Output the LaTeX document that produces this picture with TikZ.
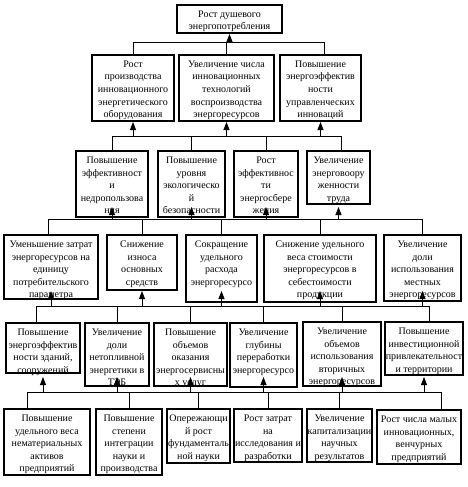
\documentclass[tikz,border=0pt]{standalone}
\usepackage{fontspec}
\setmainfont{Liberation Serif}
\usetikzlibrary{arrows.meta}
\newcommand{\cellbox}[1]{\begin{tabular}[t]{@{}c@{}}#1\end{tabular}}

\begin{document}
\begin{tikzpicture}[x=1pt,y=1pt,
  box/.style={draw,line width=2pt,anchor=north,inner xsep=1pt,inner ysep=2pt,
    text height=10.5pt,font=\fontsize{10}{12.5}\selectfont},
  arr/.style={line width=.8pt,-{Triangle[width=6pt,length=8pt]}},
  bus/.style={line width=.8pt}]
\useasboundingbox (0,0) rectangle (468,-487);
% levels
\node[box,minimum width=105pt,text depth=13.5pt] (t) at (229.5,-4) {\cellbox{Рост душевого\\энергопотребления}};

\node[box,minimum width=82pt,text depth=51.5pt] (a1) at (133,-54) {\cellbox{Рост\\производства\\инновационного\\энергетического\\оборудования}};
\node[box,minimum width=95pt,text depth=51.5pt] (a2) at (226.5,-54) {\cellbox{Увеличение числа\\инновационных\\технологий\\воспроизводства\\энергоресурсов}};
\node[box,minimum width=81pt,text depth=51.5pt] (a3) at (320.5,-54) {\cellbox{Повышение\\энергоэффектив\\ности\\управленческих\\инноваций}};

\node[box,minimum width=72pt,text depth=51.5pt] (b1) at (112,-150) {\cellbox{Повышение\\эффективност\\и\\недропользова\\ния}};
\node[box,minimum width=67pt,text depth=51.5pt] (b2) at (191.5,-150) {\cellbox{Повышение\\уровня\\экологическо\\й\\безопасности}};
\node[box,minimum width=64pt,text depth=51.5pt] (b3) at (266,-150) {\cellbox{Рост\\эффективнос\\ти\\энергосбере\\жения}};
\node[box,minimum width=63pt,text depth=38.5pt] (b4) at (338.5,-150) {\cellbox{Увеличение\\энерговоору\\женности\\труда}};

\node[box,minimum width=94pt,text depth=49.5pt] (c1) at (51,-234) {\cellbox{Уменьшение затрат\\энергоресурсов на\\единицу\\потребительского\\параметра}};
\node[box,minimum width=70pt,text depth=40.5pt] (c2) at (142,-234) {\cellbox{Снижение\\износа\\основных\\средств}};
\node[box,minimum width=71pt,text depth=52.5pt] (c3) at (221.5,-234) {\cellbox{Сокращение\\удельного\\расхода\\энергоресурсо}};
\node[box,minimum width=112pt,text depth=52.5pt] (c4) at (320,-234) {\cellbox{Снижение удельного\\веса стоимости\\энергоресурсов в\\себестоимости\\продукции}};
\node[box,minimum width=77pt,text depth=51.5pt] (c5) at (422.5,-234) {\cellbox{Увеличение\\доли\\использования\\местных\\энергоресурсов}};

\node[box,minimum width=74pt,text depth=35.5pt] (d1) at (43,-322) {\cellbox{Повышение\\энергоэффектив\\ности зданий,\\сооружений}};
\node[box,minimum width=64pt,text depth=48.5pt] (d2) at (117,-322) {\cellbox{Увеличение\\доли\\нетопливной\\энергетики в\\ТЭБ}};
\node[box,minimum width=73pt,text depth=48.5pt] (d3) at (190.5,-322) {\cellbox{Повышение\\объемов\\оказания\\энергосервисны\\х услуг}};
\node[box,minimum width=67pt,text depth=49.5pt] (d4) at (263.5,-322) {\cellbox{Увеличение\\глубины\\переработки\\энергоресурсо}};
\node[box,minimum width=78pt,text depth=49.5pt] (d5) at (342,-321) {\cellbox{Увеличение\\объемов\\использования\\вторичных\\энергоресурсов}};
\node[box,minimum width=76pt,text depth=38.5pt] (d6) at (424,-321) {\cellbox{Повышение\\инвестиционной\\привлекательност\\и территории}};

\node[box,minimum width=86pt,text depth=51.5pt] (e1) at (47,-408) {\cellbox{Повышение\\удельного веса\\нематериальных\\активов\\предприятий}};
\node[box,minimum width=66pt,text depth=51.5pt] (e2) at (129,-408) {\cellbox{Повышение\\степени\\интеграции\\науки и\\производства}};
\node[box,minimum width=63pt,text depth=39.5pt] (e3) at (198.5,-408) {\cellbox{Опережающи\\й рост\\фундаменталь\\ной науки}};
\node[box,minimum width=66pt,text depth=38.5pt] (e4) at (268,-408) {\cellbox{Рост затрат\\на\\исследования и\\разработки}};
\node[box,minimum width=65pt,text depth=38.5pt] (e5) at (339.5,-408) {\cellbox{Увеличение\\капитализации\\научных\\результатов}};
\node[box,minimum width=84pt,text depth=39.5pt] (e6) at (419,-409) {\cellbox{Рост числа малых\\инновационных,\\венчурных\\предприятий}};

% buses
\coordinate (l1) at (133,-42);  \coordinate (r1) at (324,-42);
\coordinate (l2) at (112,-136); \coordinate (r2) at (341,-136);
\coordinate (l3) at (48,-219);  \coordinate (r3) at (422,-219);
\coordinate (l4) at (36,-306);  \coordinate (r4) at (429,-306);
\coordinate (l5) at (27,-392);  \coordinate (r5) at (441,-392);
\coordinate (m3) at (0,-207);
\coordinate (m4) at (0,-291);
\coordinate (m5) at (0,-377);

\draw[bus] (l1 |- a1.north) -- (l1) -- (r1) -- (r1 |- a3.north);
\draw[bus] (a2.north) -- (a2 |- l1);
\draw[arr] (t |- l1) -- (t.south);

\draw[bus] (l2 |- b1.north) -- (l2) -- (r2) -- (r2 |- b4.north);
\foreach \n in {b2,b3} \draw[bus] (\n.north) -- (\n |- l2);
\foreach \n in {a1,a2,a3} \draw[arr] (\n |- l2) -- (\n.south);

\draw[bus] (l3 |- c1.north) -- (l3) -- (r3) -- (r3 |- c5.north);
\foreach \n in {c2,c3,c4} \draw[bus] (\n.north) -- (\n |- l3);
\foreach \n in {b1,b2,b3,b4} \draw[arr] (\n |- l3) -- (\n |- m3);

\draw[bus] (l4 |- d1.north) -- (l4) -- (r4) -- (r4 |- d6.north);
\foreach \n in {d2,d3,d4,d5} \draw[bus] (\n.north) -- (\n |- l4);
\foreach \n in {c1,c2,c3,c4,c5} \draw[arr] (\n |- l4) -- (\n |- m4);

\draw[bus] (l5 |- e1.north) -- (l5) -- (r5) -- (r5 |- e6.north);
\foreach \n in {e2,e3,e4,e5} \draw[bus] (\n.north) -- (\n |- l5);
\foreach \n in {d1,d2,d3,d4,d5,d6} \draw[arr] (\n |- l5) -- (\n |- m5);
\end{tikzpicture}
\end{document}
